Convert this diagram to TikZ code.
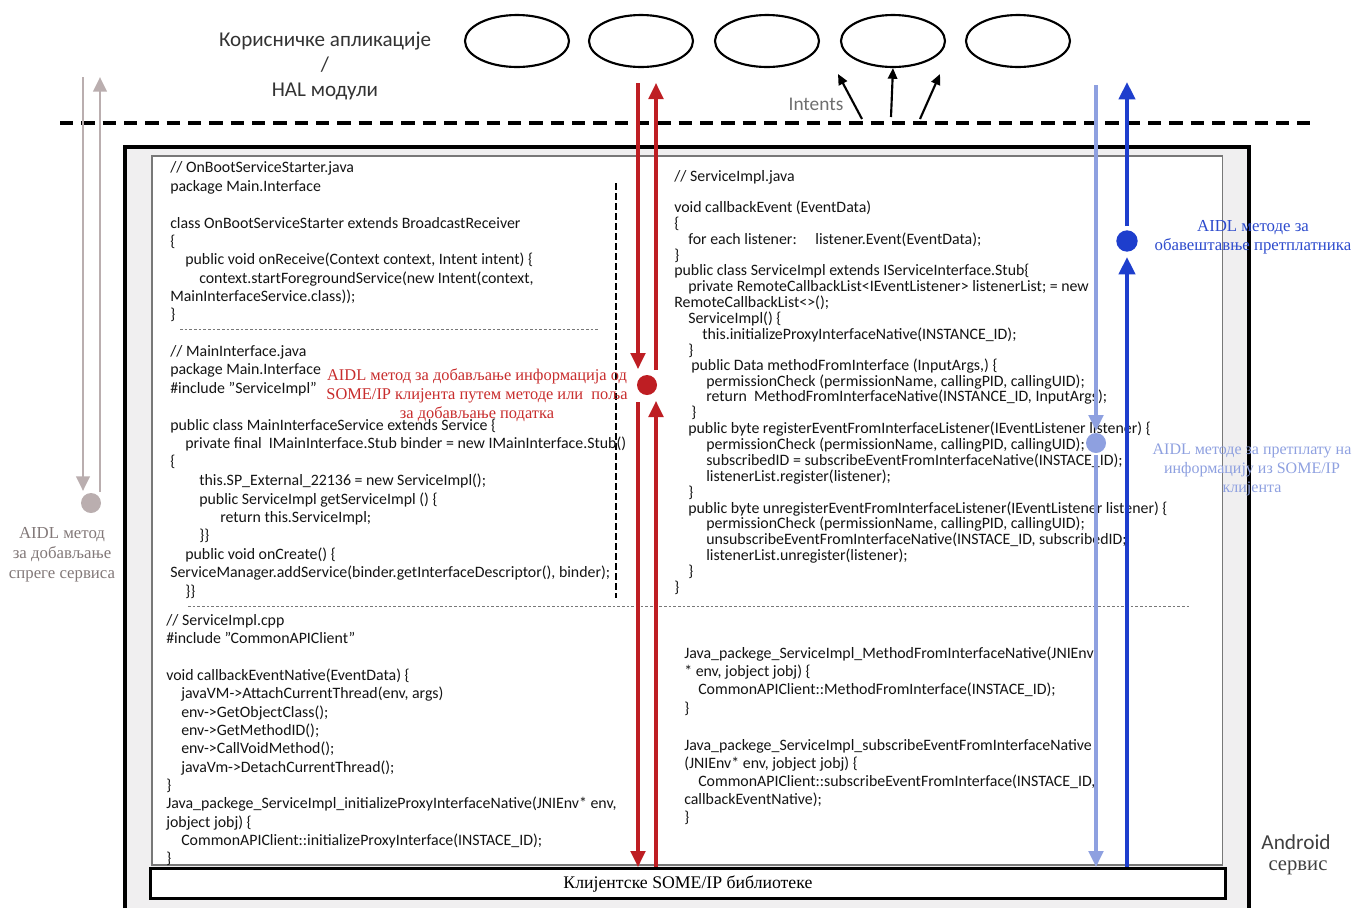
\documentclass[tikz,border=0pt]{standalone}
\usepackage{fontspec}
\setmainfont{Carlito}
\newfontfamily\cyrserif{Liberation Serif}
\usetikzlibrary{arrows.meta,shapes.geometric}

\definecolor{codegray}{RGB}{20,20,20}
\definecolor{boxfill}{RGB}{240,239,240}
\definecolor{frame}{RGB}{120,120,120}
\definecolor{mauve}{RGB}{186,174,175}
\definecolor{mauvetxt}{RGB}{130,120,120}
\definecolor{aidlred}{RGB}{190,30,35}
\definecolor{redtxt}{RGB}{200,45,45}
\definecolor{paleblue}{RGB}{142,160,224}
\definecolor{deepblue}{RGB}{30,62,205}
\definecolor{bluetxt}{RGB}{45,75,205}
\definecolor{intentgray}{RGB}{110,110,110}

\begin{document}
\begin{tikzpicture}[x=0.75pt,y=-0.75pt,
  codeL/.style={anchor=mid west, inner sep=0pt, text=codegray, font=\fontsize{11.9}{13}\selectfont, yshift=-1pt},
  codeR/.style={codeL},
  codeN/.style={codeL},
  app/.style={ellipse, draw, line width=1.6pt, minimum width=78pt, minimum height=39pt, inner sep=0pt},
  dot/.style={circle, inner sep=0pt, minimum size=15pt},
  note/.style={align=center, inner sep=0pt, font=\cyrserif\fontsize{12.3}{14.3}\selectfont},
  mauvearr/.style={draw=mauve, line width=2.2pt, -{Triangle[width=10pt,length=11pt]}},
  redarr/.style={draw=aidlred, line width=2.3pt, -{Triangle[width=11pt,length=12pt]}},
  palearr/.style={draw=paleblue, line width=2.3pt, -{Triangle[width=11pt,length=12pt]}},
  deeparr/.style={draw=deepblue, line width=3pt, -{Triangle[width=12pt,length=13pt]}},
  intentarr/.style={draw=black, line width=1.6pt, -{Triangle[width=7pt,length=8pt]}},
  sep/.style={draw=frame, line width=0.6pt, dash pattern=on 2pt off 1.5pt}]
\useasboundingbox (0,0) rectangle (1354,908);

% client applications / HAL modules
\foreach \cx [count=\k] in {517,641,767,893,1018}
  \node[app] (e\k) at (\cx,41) {};
\node[align=center, inner sep=0pt, text=black!80, font=\fontsize{15.8}{18.8}\selectfont] (apps) at (325,66)
  {Корисничке апликације\\/\\HAL модули};

% process boundary
\coordinate (bl) at (60,123);
\coordinate (br) at (1310,123);
\draw[line width=2.4pt, dash pattern=on 10pt off 6pt] (bl) -- (br);
\node[text=intentgray, inner sep=0pt, font=\fontsize{14.5}{16}\selectfont] (intents) at (816,104) {Intents};

% Android service frame
\fill[boxfill] (125,147) rectangle (1249,908);
\draw[line width=2.4pt] (125,908) -- (125,147) -- (1249,147) -- (1249,908);
\node[draw=frame, fill=white, line width=1.2pt, anchor=north west, inner sep=0pt,
      minimum width=803pt, minimum height=532pt] (inner) at (151,155) {};
\node[inner sep=0pt, text=black!75, font=\fontsize{16}{18}\selectfont] (android) at (1296,842) {Android};
\node[inner sep=0pt, text=black!75, font=\cyrserif\fontsize{15.5}{18}\selectfont] (servis) at (1298,868) {сервис};

% section separators
\draw[sep] (180,329) -- (598,329);
\draw[sep] (188,606) -- (1190,606);
\draw[line width=1.5pt, dash pattern=on 5pt off 2.5pt] (616,183) -- (616,598);

% OnBootServiceStarter.java
\foreach \px/\py/\txt [count=\k] in {
  170/168/{// OnBootServiceStarter.java},
  170/187/{package Main.Interface},
  170/224/{class OnBootServiceStarter extends BroadcastReceiver},
  170/242/{\{},
  185/260/{public void onReceive(Context context, Intent intent) \{},
  199/279/{context.startForegroundService(new Intent(context,},
  170/297/{MainInterfaceService.class));},
  170/315/{\}}}
  \node[codeL] (boot\k) at (\px,\py) {\txt};

% MainInterface.java
\foreach \px/\py/\txt [count=\k] in {
  170/352/{// MainInterface.java},
  170/370/{package Main.Interface},
  170/389/{\#include "ServiceImpl"},
  170/426/{public class MainInterfaceService extends Service \{},
  185/444/{private final\ \ IMainInterface.Stub binder = new IMainInterface.Stub()},
  170/462/{\{},
  199/481/{this.SP\_External\_22136 = new ServiceImpl();},
  199/500/{public ServiceImpl getServiceImpl () \{},
  220/518/{return this.ServiceImpl;},
  199/536/{\}\}},
  185/555/{public void onCreate() \{},
  170/573/{ServiceManager.addService(binder.getInterfaceDescriptor(), binder);},
  185/592/{\}\}}}
  \node[codeL] (main\k) at (\px,\py) {\txt};

% ServiceImpl.cpp
\foreach \px/\py/\txt [count=\k] in {
  166/621/{// ServiceImpl.cpp},
  166/639/{\#include "CommonAPIClient"},
  166/676/{void callbackEventNative(EventData) \{},
  181/694/{javaVM->AttachCurrentThread(env, args)},
  181/713/{env->GetObjectClass();},
  181/731/{env->GetMethodID();},
  181/749/{env->CallVoidMethod();},
  181/768/{javaVm->DetachCurrentThread();},
  166/786/{\}},
  166/804/{Java\_packege\_ServiceImpl\_initializeProxyInterfaceNative(JNIEnv* env,},
  166/823/{jobject jobj) \{},
  181/841/{CommonAPIClient::initializeProxyInterface(INSTACE\_ID);},
  166/859/{\}}}
  \node[codeL] (cpp\k) at (\px,\py) {\txt};

% ServiceImpl.java
\foreach \px/\py/\txt [count=\k] in {
  674/177/{// ServiceImpl.java},
  674/208/{void callbackEvent (EventData)},
  674/224/{\{},
  688/240/{for each listener:\hspace{14pt}listener.Event(EventData);},
  674/256/{\}},
  674/271/{public class ServiceImpl extends IServiceInterface.Stub\{},
  688/287/{private RemoteCallbackList<IEventListener> listenerList; = new},
  674/303/{RemoteCallbackList<>();},
  688/319/{ServiceImpl() \{},
  702/335/{this.initializeProxyInterfaceNative(INSTANCE\_ID);},
  688/351/{\}},
  691/366/{public Data methodFromInterface (InputArgs,) \{},
  706/382/{permissionCheck (permissionName, callingPID, callingUID);},
  706/397/{return\ \ MethodFromInterfaceNative(INSTANCE\_ID, InputArgs);},
  691/413/{\}},
  688/429/{public byte registerEventFromInterfaceListener(IEventListener listener) \{},
  706/445/{permissionCheck (permissionName, callingPID, callingUID);},
  706/461/{subscribedID = subscribeEventFromInterfaceNative(INSTACE\_ID);},
  706/477/{listenerList.register(listener);},
  688/493/{\}},
  688/509/{public byte unregisterEventFromInterfaceListener(IEventListener listener) \{},
  706/524/{permissionCheck (permissionName, callingPID, callingUID);},
  706/540/{unsubscribeEventFromInterfaceNative(INSTACE\_ID, subscribedID;},
  706/556/{listenerList.unregister(listener);},
  688/572/{\}},
  674/588/{\}}}
  \node[codeR] (impl\k) at (\px,\py) {\txt};

% JNI bridge functions
\foreach \px/\py/\txt [count=\k] in {
  684/654/{Java\_packege\_ServiceImpl\_MethodFromInterfaceNative(JNIEnv},
  684/672/{* env, jobject jobj) \{},
  698/690/{CommonAPIClient::MethodFromInterface(INSTACE\_ID);},
  684/709/{\}},
  684/746/{Java\_packege\_ServiceImpl\_subscribeEventFromInterfaceNative},
  684/764/{(JNIEnv* env, jobject jobj) \{},
  698/782/{CommonAPIClient::subscribeEventFromInterface(INSTACE\_ID,},
  684/800/{callbackEventNative);},
  684/818/{\}}}
  \node[codeN] (jni\k) at (\px,\py) {\txt};

% SOME/IP client library
\node[draw, fill=white, line width=2.4pt, anchor=north west, inner sep=0pt,
      minimum width=806pt, minimum height=22.5pt] (lib) at (149,867) {};
\node[font=\cyrserif\fontsize{13.3}{15}\selectfont, inner sep=0pt] (libtxt) at (lib.center) {Клијентске SOME/IP библиотеке};

% Intents
\coordinate (i1) at (862,119);
\coordinate (i2) at (891,117);
\coordinate (i3) at (920,119);
\coordinate (t1) at (838,74);
\coordinate (t3) at (940,74);
\draw[intentarr] (i1) -- (t1);
\draw[intentarr] (i2) -- (e4.south);
\draw[intentarr] (i3) -- (t3);

% service interface retrieval (AIDL)
\node[dot, fill=mauve] (gdot) at (91,503) {};
\coordinate (gLtop) at (83,77);
\coordinate (gLbot) at (83,491);
\coordinate (gRtop) at (100,77);
\coordinate (gRbot) at (100,492);
\draw[mauvearr] (gLtop) -- (gLbot);
\draw[mauvearr] (gRbot) -- (gRtop);
\node[note, text=mauvetxt, font=\cyrserif\fontsize{12.6}{15}\selectfont] (glbl) at (62,555)
  {AIDL метод\\за добављање\\спреге сервиса};

% method / field getter (AIDL)
\node[dot, fill=aidlred] (rdot) at (647,385) {};
\coordinate (rLtop) at (638,83);
\coordinate (rLmid) at (638,369);
\coordinate (rRtop) at (656,83);
\coordinate (rRmid) at (656,370);
\coordinate (rLlow) at (638,402);
\coordinate (rRlow) at (656,401);
\draw[redarr] (rLtop) -- (rLmid);
\draw[redarr] (rRmid) -- (rRtop);
\draw[redarr] (rLlow) -- (rLlow |- lib.north);
\draw[redarr] (rRlow |- lib.north) -- (rRlow);
\node[note, text=redtxt] (rlbl) at (477,395)
  {AIDL метод за добављање информација од\\SOME/IP клијента путем методе или\ \ поља\\за добављање податка};

% event subscription (AIDL)
\node[dot, fill=paleblue] (pdot) at (1096,443) {};
\coordinate (pTop) at (1096,85);
\coordinate (pMid) at (1096,431);
\coordinate (pLow) at (1096,455);
\draw[palearr] (pTop) -- (pMid);
\draw[palearr] (pLow) -- (pLow |- lib.north);
\node[note, text=paleblue, font=\cyrserif\fontsize{12}{14.3}\selectfont] (plbl) at (1252,470)
  {AIDL методе за претплату на\\информацију из SOME/IP\\клијента};

% subscriber notification (AIDL)
\node[dot, fill=deepblue, minimum size=16pt] (bdot) at (1127,241) {};
\coordinate (bTop) at (1127,82);
\coordinate (bHi) at (1127,226);
\coordinate (bLo) at (1127,257);
\draw[deeparr] (bHi) -- (bTop);
\draw[deeparr] (bLo |- lib.north) -- (bLo);
\node[note, text=bluetxt, font=\cyrserif\fontsize{12.6}{14.3}\selectfont] (blbl) at (1253,237)
  {AIDL методе за\\обавештавње претплатника};
\end{tikzpicture}
\end{document}
